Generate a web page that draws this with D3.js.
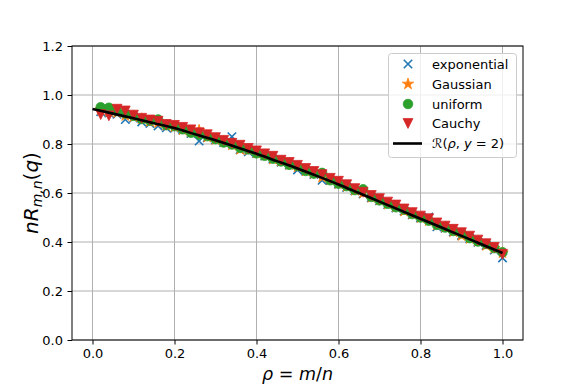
<!DOCTYPE html>
<html><head><meta charset="utf-8">
<script src="https://cdn.jsdelivr.net/npm/d3@7/dist/d3.min.js"></script>
<style>
html,body{margin:0;padding:0;background:#fff;}
text{font-family:"DejaVu Sans",sans-serif;}
</style></head>
<body><svg id="chart" width="581" height="388"></svg>
<script>
// ---- data ----
const rho = [0.02,0.04,0.06,0.08,0.10,0.12,0.14,0.16,0.18,0.20,
             0.22,0.24,0.26,0.28,0.30,0.32,0.34,0.36,0.38,0.40,
             0.42,0.44,0.46,0.48,0.50,0.52,0.54,0.56,0.58,0.60,
             0.62,0.64,0.66,0.68,0.70,0.72,0.74,0.76,0.78,0.80,
             0.82,0.84,0.86,0.88,0.90,0.92,0.94,0.96,0.98,1.00];
const exponentialVals = [0.932,0.927,0.921,0.900,0.905,0.890,0.884,0.874,0.866,0.864,
                         0.857,0.843,0.812,0.826,0.817,0.806,0.830,0.777,0.768,0.761,
                         0.751,0.738,0.726,0.714,0.694,0.689,0.676,0.652,0.651,0.636,
                         0.623,0.609,0.596,0.581,0.568,0.553,0.539,0.526,0.511,0.498,
                         0.502,0.462,0.456,0.441,0.427,0.414,0.399,0.386,0.367,0.335];
const gaussianVals = [0.940,0.933,0.928,0.916,0.911,0.903,0.892,0.887,0.876,0.870,
                      0.858,0.850,0.856,0.828,0.818,0.810,0.796,0.778,0.776,0.763,
                      0.754,0.738,0.730,0.716,0.706,0.690,0.680,0.664,0.654,0.638,
                      0.627,0.611,0.600,0.582,0.571,0.554,0.544,0.526,0.515,0.499,
                      0.487,0.470,0.460,0.442,0.426,0.414,0.403,0.386,0.374,0.356];
const uniformVals = [0.950,0.948,0.935,0.925,0.915,0.902,0.895,0.900,0.877,0.873,
                     0.860,0.846,0.838,0.832,0.820,0.806,0.798,0.784,0.778,0.762,
                     0.752,0.740,0.729,0.715,0.710,0.690,0.679,0.682,0.652,0.638,
                     0.628,0.612,0.615,0.584,0.570,0.556,0.542,0.532,0.514,0.500,
                     0.487,0.470,0.459,0.445,0.436,0.416,0.402,0.392,0.375,0.358];
const cauchyVals = [0.920,0.915,0.942,0.935,0.918,0.905,0.898,0.893,0.880,0.876,
                    0.868,0.858,0.846,0.838,0.826,0.815,0.803,0.795,0.782,0.772,
                    0.760,0.750,0.734,0.725,0.713,0.700,0.688,0.675,0.660,0.648,
                    0.634,0.618,0.603,0.590,0.577,0.563,0.551,0.535,0.520,0.506,
                    0.495,0.478,0.465,0.452,0.438,0.424,0.408,0.393,0.378,0.350];
const curveRho = [0.00,0.05,0.10,0.15,0.20,0.25,0.30,0.35,0.40,0.45,0.50,
                  0.55,0.60,0.65,0.70,0.75,0.80,0.85,0.90,0.95,1.00];
const curveVals = [0.943,0.924,0.905,0.885,0.865,0.840,0.815,0.788,0.760,0.730,0.700,
                   0.668,0.635,0.600,0.565,0.530,0.495,0.460,0.425,0.390,0.355];
const xTicks = [0.0,0.2,0.4,0.6,0.8,1.0];
const yTicks = [0.0,0.2,0.4,0.6,0.8,1.0,1.2];
const seriesNames = ["exponential","Gaussian","uniform","Cauchy"];
const seriesColors = ["#1f77b4","#ff7f0e","#2ca02c","#d62728"];

// ---- chart ----
const svg = d3.select("#chart");
svg.append("rect").attr("width",581).attr("height",388).attr("fill","#fff");
const x = d3.scaleLinear().domain([-0.05,1.05]).range([72,523]);
const y = d3.scaleLinear().domain([0,1.2]).range([340,46]);
const fmt = d3.format(".1f");

// grid
const grid = svg.append("g");
grid.selectAll(".gx").data(xTicks).join("line")
  .attr("x1",d=>x(d)).attr("x2",d=>x(d)).attr("y1",46).attr("y2",340)
  .attr("stroke","#b0b0b0").attr("stroke-width",1);
grid.selectAll(".gy").data(yTicks).join("line")
  .attr("y1",d=>y(d)).attr("y2",d=>y(d)).attr("x1",72).attr("x2",523)
  .attr("stroke","#b0b0b0").attr("stroke-width",1);

// series
const sets = [exponentialVals, gaussianVals, uniformVals, cauchyVals];
function drawMarker(g, kind, color){
  if(kind===0){
    const s=4.2;
    g.append("path").attr("d",`M${-s},${-s}L${s},${s}M${-s},${s}L${s},${-s}`)
      .attr("stroke",color).attr("stroke-width",1.6).attr("fill","none");
  } else if(kind===1){
    g.append("path").attr("d",d3.symbol(d3.symbolStar,40)())
      .attr("fill",color).attr("stroke",color).attr("stroke-width",0.8);
  } else if(kind===2){
    g.append("circle").attr("r",4.8).attr("fill",color).attr("stroke",color).attr("stroke-width",0.8);
  } else {
    const s=4.9;
    g.append("path").attr("d",`M${-s},${-s}L${s},${-s}L0,${s}Z`)
      .attr("fill",color).attr("stroke",color).attr("stroke-width",0.8).attr("stroke-linejoin","miter");
  }
}
const plot = svg.append("g");
sets.forEach((vals,k)=>{
  const gs = plot.append("g");
  rho.forEach((r,i)=>{
    const g = gs.append("g").attr("transform",`translate(${x(r)},${y(vals[i])})`);
    drawMarker(g,k,seriesColors[k]);
  });
});

// curve
const line = d3.line().x((d,i)=>x(curveRho[i])).y(d=>y(d)).curve(d3.curveMonotoneX);
svg.append("path").datum(curveVals).attr("d",line)
  .attr("fill","none").attr("stroke","#000").attr("stroke-width",2.6);

// axes
const xAxis = svg.append("g").attr("transform","translate(0,340)")
  .call(d3.axisBottom(x).tickValues(xTicks).tickFormat(fmt).tickSize(4.5).tickPadding(4.5));
const yAxis = svg.append("g").attr("transform","translate(72,0)")
  .call(d3.axisLeft(y).tickValues(yTicks).tickFormat(fmt).tickSize(4.5).tickPadding(4.5));
[xAxis,yAxis].forEach(a=>{
  a.select(".domain").remove();
  a.selectAll("text").attr("font-family","DejaVu Sans").attr("font-size","13px").attr("fill","#000");
  a.selectAll("line").attr("stroke","#000").attr("stroke-width",1);
});
// spines
svg.append("rect").attr("x",72).attr("y",46).attr("width",451).attr("height",294)
  .attr("fill","none").attr("stroke","#000").attr("stroke-width",1);

// axis labels
const xl = svg.append("text").attr("x",297.5).attr("y",380).attr("text-anchor","middle")
  .attr("font-size","17.5px");
xl.append("tspan").attr("font-style","italic").text("ρ");
xl.append("tspan").text(" = ");
xl.append("tspan").attr("font-style","italic").text("m");
xl.append("tspan").text("/");
xl.append("tspan").attr("font-style","italic").text("n");

const yl = svg.append("text").attr("transform","translate(38,193) rotate(-90)")
  .attr("text-anchor","middle").attr("font-size","20px");
yl.append("tspan").attr("font-style","italic").text("nR");
yl.append("tspan").attr("font-style","italic").attr("font-size","14px").attr("dy",4).text("m,n");
yl.append("tspan").attr("dy",-4).text("(");
yl.append("tspan").attr("font-style","italic").text("q");
yl.append("tspan").text(")");

// legend
const lg = svg.append("g");
lg.append("rect").attr("x",388.5).attr("y",53.5).attr("width",128).attr("height",104)
  .attr("rx",3).attr("fill","#fff").attr("fill-opacity",0.8).attr("stroke","#cccccc").attr("stroke-width",1);
const rowsY = [64,84,104,123.5,143.5];
seriesNames.forEach((name,k)=>{
  const g = lg.append("g").attr("transform",`translate(408,${rowsY[k]})`);
  drawMarker(g,k,seriesColors[k]);
  lg.append("text").attr("x",432).attr("y",rowsY[k]+4.7).attr("font-size","13px").text(name);
});
lg.append("line").attr("x1",393).attr("x2",422).attr("y1",rowsY[4]).attr("y2",rowsY[4])
  .attr("stroke","#000").attr("stroke-width",2.6);
const rt = lg.append("text").attr("x",432).attr("y",rowsY[4]+4.7).attr("font-size","13px");
rt.append("tspan").attr("font-style","italic").text("ℛ");
rt.append("tspan").text("(");
rt.append("tspan").attr("font-style","italic").text("ρ");
rt.append("tspan").text(", ");
rt.append("tspan").attr("font-style","italic").text("y");
rt.append("tspan").text(" = 2)");
</script></body></html>
